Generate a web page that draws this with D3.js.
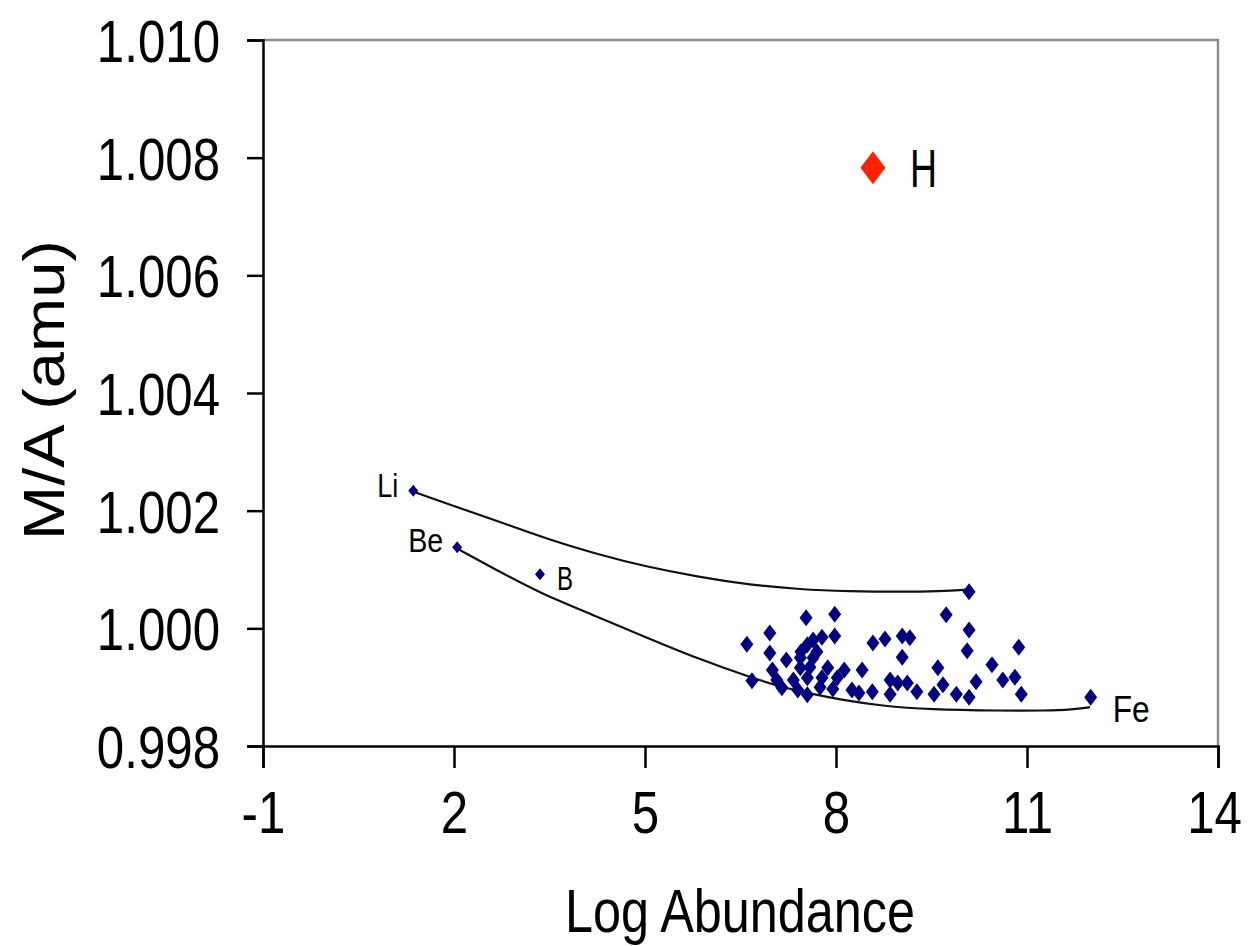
<!doctype html>
<html>
<head>
<meta charset="UTF-8">
<title>M/A vs Log Abundance</title>
<script src="https://cdn.jsdelivr.net/npm/d3@7"></script>
<style>
  body { margin: 0; background: #fff; }
  text { font-family: "Liberation Sans", Arial, sans-serif; fill: #000; }
</style>
</head>
<body>
<svg width="1253" height="946"></svg>
<script>
// log abundance (x) and M/A in amu (y)
var elemX = [6.60, 6.96, 7.53, 7.98, 7.98, 7.78, 7.64, 7.55, 7.45, 7.70, 6.96, 7.22, 7.44, 7.64, 7.44, 7.59,
  7.00, 7.87, 8.13, 8.41, 8.58, 8.77, 7.07, 7.33, 7.55, 7.78, 8.02, 6.68, 7.15, 7.40, 7.55, 7.75, 7.95,
  8.25, 8.36, 8.57, 8.85, 8.85, 9.04, 9.16, 9.04, 8.97, 9.12, 9.27, 9.73, 10.09, 10.06, 9.60, 9.68,
  10.20, 10.45, 10.62, 10.81, 10.87, 10.91, 9.54, 9.89, 10.09, 10.09, 12.00, 1.36, 2.05, 3.35];
var elemY = [0.99973, 0.99992, 1.00018, 1.00024, 0.99987, 0.99985, 0.99980, 0.99972, 0.99960, 0.99960,
  0.99958, 0.99946, 0.99950, 0.99950, 0.99933, 0.99934, 0.99929, 0.99933, 0.99929, 0.99929, 0.99975,
  0.99982, 0.99912, 0.99912, 0.99916, 0.99916, 0.99916, 0.99911, 0.99899, 0.99895, 0.99887, 0.99900,
  0.99897, 0.99895, 0.99890, 0.99892, 0.99912, 0.99888, 0.99987, 0.99984, 0.99951, 0.99907, 0.99907,
  0.99892, 1.00023, 0.99997, 0.99962, 0.99933, 0.99904, 0.99909, 0.99938, 0.99912, 0.99917, 0.99968,
  0.99888, 0.99888, 0.99888, 0.99883, 1.00062, 0.99883, 1.00234, 1.00138, 1.00092];

var hX = 8.58, hY = 1.00783;

// element labels
var tagNames = ["Li", "Be", "B", "Fe", "H"];
var tagX = [1.36, 2.05, 3.35, 12.00, 8.58];
var tagY = [1.00234, 1.00138, 1.00092, 0.99883, 1.00783];

// the two trend curves
var upperX = [1.37, 1.94, 2.72, 3.51, 4.29, 4.97, 5.86, 6.65, 7.43, 8.22, 9.00, 9.63, 10.09];
var upperY = [1.00232, 1.00210, 1.00181, 1.00150, 1.00125, 1.00106, 1.00087, 1.00074, 1.00066,
  1.00063, 1.00062, 1.00063, 1.00066];
var lowerX = [2.06, 2.72, 3.35, 4.20, 4.92, 5.86, 6.65, 7.12, 7.59, 8.06, 8.72, 9.48, 10.58, 11.30, 11.71, 11.99];
var lowerY = [1.00135, 1.00096, 1.00060, 1.00022, 0.99989, 0.99947, 0.99917, 0.99901, 0.99889, 0.99879,
  0.99868, 0.99862, 0.99860, 0.99860, 0.99862, 0.99866];

var xTicks = [-1, 2, 5, 8, 11, 14];
var yTicks = [0.998, 1.000, 1.002, 1.004, 1.006, 1.008, 1.010];

var svg = d3.select('svg');
var mLeft = 263, mRight = 1218, mTop = 40, mBottom = 746;

var x = d3.scaleLinear().domain([-1, 14]).range([mLeft, mRight]);
var y = d3.scaleLinear().domain([0.998, 1.010]).range([mBottom, mTop]);

// squeeze text sideways, the picture is stretched tall
function squeeze(sel, k) {
  sel.each(function() {
    var w = this.getComputedTextLength();
    d3.select(this).attr('textLength', w * k).attr('lengthAdjust', 'spacingAndGlyphs');
  });
}

// frame (grey top and right)
svg.append('path')
  .attr('d', 'M' + mLeft + ',' + mTop + 'H' + mRight + 'V' + mBottom)
  .attr('fill', 'none').attr('stroke', '#8c8c8c').attr('stroke-width', 2.5);

var yAxis = svg.append('g')
  .attr('transform', 'translate(' + mLeft + ',0)')
  .call(d3.axisLeft(y).tickValues(yTicks).tickFormat(d3.format('.3f')).tickSize(16).tickPadding(27));
var xAxis = svg.append('g')
  .attr('transform', 'translate(0,' + mBottom + ')')
  .call(d3.axisBottom(x).tickValues(xTicks).tickFormat(function(d) { return String(d); }).tickSize(22).tickPadding(22));

[yAxis, xAxis].forEach(function(a) {
  a.select('.domain').attr('stroke', '#000').attr('stroke-width', 2.5);
  a.selectAll('.tick line').attr('stroke', '#000').attr('stroke-width', 2.5);
  a.selectAll('.tick text').style('font-size', '60px').attr('fill', '#000');
  squeeze(a.selectAll('.tick text'), 0.82);
});
yAxis.selectAll('.tick text').attr('dy', '0.36em');
// keep the last x label inside the page
xAxis.selectAll('.tick text').filter(function(d) { return d === 14; }).attr('dx', -4);

// axis titles
svg.append('text')
  .attr('x', 740).attr('y', 932)
  .attr('text-anchor', 'middle').style('font-size', '62px')
  .attr('textLength', 350).attr('lengthAdjust', 'spacingAndGlyphs')
  .text('Log Abundance');
svg.append('text')
  .attr('transform', 'translate(64,' + 390 + ') rotate(-90)')
  .attr('text-anchor', 'middle').style('font-size', '58px')
  .attr('textLength', 300).attr('lengthAdjust', 'spacingAndGlyphs')
  .text('M/A (amu)');

var line = d3.line().curve(d3.curveBasis);

[[upperX, upperY], [lowerX, lowerY]].forEach(function(c) {
  svg.append('path')
    .attr('d', line(c[0].map(function(v, i) { return [x(v), y(c[1][i])]; })))
    .attr('fill', 'none').attr('stroke', '#111').attr('stroke-width', 2.2);
});

function diamond(w, h) {
  return 'M0,' + (-h / 2) + 'L' + (w / 2) + ',0L0,' + (h / 2) + 'L' + (-w / 2) + ',0Z';
}

svg.append('g').selectAll('path')
  .data(elemX)
  .enter().append('path')
  .attr('transform', function(d, i) { return 'translate(' + x(d) + ',' + y(elemY[i]) + ')'; })
  .attr('d', function(d, i) { return i >= elemX.length - 3 ? diamond(10, 12) : diamond(13, 17); })
  .attr('fill', '#000080');

svg.append('path')
  .attr('transform', 'translate(' + x(hX) + ',' + y(hY) + ')')
  .attr('d', diamond(25, 33))
  .attr('fill', '#ff2200');

// label offsets from their point, and sizes
var tagDx = [-15, -14, 17, 22, 37];
var tagDy = [6, 5, 16, 25, 19];
var tagSize = [34, 34, 34, 36, 54];
var tagLen = [21, 35, 16, 37, 27];
tagNames.forEach(function(n, i) {
  svg.append('text')
    .attr('x', x(tagX[i]) + tagDx[i]).attr('y', y(tagY[i]) + tagDy[i])
    .attr('text-anchor', i < 2 ? 'end' : 'start')
    .style('font-size', tagSize[i] + 'px')
    .attr('textLength', tagLen[i]).attr('lengthAdjust', 'spacingAndGlyphs')
    .text(n);
});
</script>
</body>
</html>
